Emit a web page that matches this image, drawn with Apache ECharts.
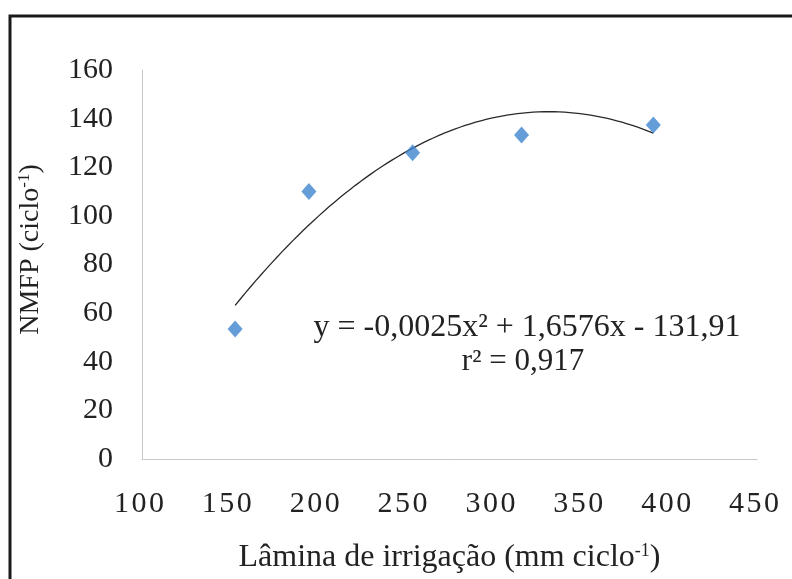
<!DOCTYPE html>
<html>
<head>
<meta charset="utf-8">
<script src="https://cdn.jsdelivr.net/npm/echarts@6/dist/echarts.min.js"></script>
<style>
  html, body { margin: 0; padding: 0; background: #ffffff; }
  #chart { width: 792px; height: 579px; }
</style>
</head>
<body>
<div id="chart"></div>
<script>
// Irrigation depth (mm per cycle) and NMFP per cycle
const laminas = [153, 195, 254, 316, 391];
const nmfp = [53.5, 110, 126, 133.3, 137.4];

// Axis tick values
const xTicks = [100, 150, 200, 250, 300, 350, 400, 450];
const yTicks = [0, 20, 40, 60, 80, 100, 120, 140, 160];

// Quadratic fit: y = a x^2 + b x + c
const fitCoef = [-0.0025, 1.6576, -131.91];
const fitR2 = '0,917';

const fitLine = [];
const xStart = laminas[0], xEnd = laminas[laminas.length - 1];
for (let i = 0; i <= 80; i++) {
  const x = xStart + (xEnd - xStart) * i / 80;
  fitLine.push([x, fitCoef[0] * x * x + fitCoef[1] * x + fitCoef[2]]);
}

const fmtNum = v => String(v).replace('.', ',');
const equation = 'y = ' + fmtNum(fitCoef[0]) + 'x\u00B2 + ' + fmtNum(fitCoef[1]) +
  'x - ' + fmtNum(Math.abs(fitCoef[2]));

const serif = '"Liberation Serif", "Times New Roman", serif';
const supStyle = { fontSize: 18, fontFamily: serif, color: '#222', padding: [0, 0, 14, 0] };

const chart = echarts.init(document.getElementById('chart'), null, { renderer: 'canvas' });
chart.setOption({
  animation: false,
  backgroundColor: '#ffffff',
  grid: { left: 142, right: 35, top: 70, bottom: 120, containLabel: false },
  xAxis: {
    type: 'value',
    min: xTicks[0],
    max: xTicks[xTicks.length - 1],
    interval: xTicks[1] - xTicks[0],
    axisLine: { show: true, lineStyle: { color: '#c8c8c8', width: 1 } },
    axisTick: { show: false },
    splitLine: { show: false },
    axisLabel: {
      margin: 30,
      color: '#222',
      fontSize: 30,
      fontFamily: serif,
      padding: [0, 6, 0, 0],
      formatter: v => String(v).split('').join('\u200A')
    },
    name: '{t|Lâmina de irrigação (mm ciclo}{s|-1}{t|)}',
    nameLocation: 'middle',
    nameGap: 83,
    nameTextStyle: {
      rich: {
        t: { fontSize: 32, fontFamily: serif, color: '#222' },
        s: supStyle
      }
    }
  },
  yAxis: {
    type: 'value',
    min: yTicks[0],
    max: yTicks[yTicks.length - 1],
    interval: yTicks[1] - yTicks[0],
    axisLine: { show: true, lineStyle: { color: '#c8c8c8', width: 1 } },
    axisTick: { show: false },
    splitLine: { show: false },
    axisLabel: { margin: 29, color: '#222', fontSize: 30, fontFamily: serif },
    name: '{t|NMFP (ciclo}{s|-1}{t|)}',
    nameLocation: 'middle',
    nameRotate: 90,
    nameGap: 96,
    nameTextStyle: {
      padding: [0, 0, 0, 30],
      rich: {
        t: { fontSize: 28, fontFamily: serif, color: '#222' },
        s: { fontSize: 17, fontFamily: serif, color: '#222', padding: [0, 0, 13, 0] }
      }
    }
  },
  series: [
    {
      name: 'Ajuste',
      type: 'line',
      data: fitLine,
      showSymbol: false,
      smooth: false,
      lineStyle: { color: '#2a2a2a', width: 1.3 },
      z: 2
    },
    {
      name: 'NMFP',
      type: 'scatter',
      data: laminas.map((x, i) => [x, nmfp[i]]),
      symbol: 'diamond',
      symbolSize: [15, 17],
      itemStyle: { color: '#3f84cf' },
      z: 3
    }
  ],
  graphic: [
    {
      type: 'rect',
      shape: { x: 10, y: 16, width: 800, height: 600 },
      style: { fill: 'none', stroke: '#1a1a1a', lineWidth: 3 },
      silent: true
    },
    {
      type: 'text',
      x: 527, y: 328,
      style: {
        text: equation,
        font: '32px ' + serif,
        fill: '#222',
        align: 'center',
        verticalAlign: 'middle'
      }
    },
    {
      type: 'text',
      x: 523, y: 362,
      style: {
        text: 'r\u00B2 = ' + fitR2,
        font: '31px ' + serif,
        fill: '#222',
        align: 'center',
        verticalAlign: 'middle'
      }
    }
  ]
});
</script>
</body>
</html>
